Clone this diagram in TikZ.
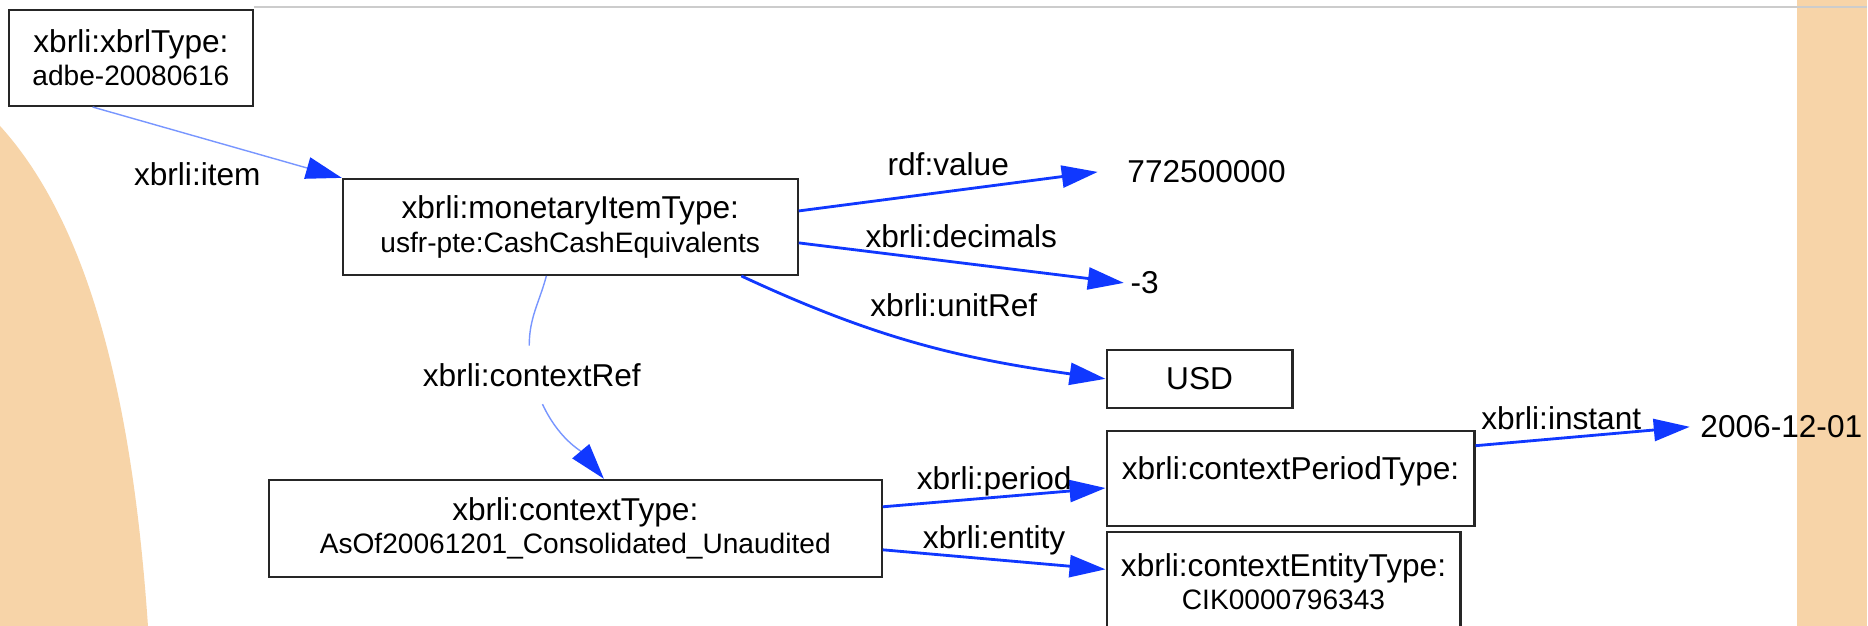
\documentclass[tikz,border=0pt]{standalone}
\usepackage{fontspec}
\setmainfont{Liberation Sans}
\usetikzlibrary{arrows.meta,positioning}
\definecolor{edgeblue}{RGB}{16,56,255}
\definecolor{paleblue}{RGB}{120,150,255}
\definecolor{peach}{RGB}{247,212,168}
\newcommand{\subline}[1]{\\[-1pt]{\fontsize{8}{9.5}\selectfont #1}}

\begin{document}
\begin{tikzpicture}
  \tikzstyle{typebox}=[draw=black!85, line width=0.6pt, align=center, minimum height=0.96cm, inner sep=0pt, font=\fontsize{9}{10.5}\selectfont]
  \tikzstyle{literal}=[font=\fontsize{9}{10.5}\selectfont, inner ysep=2pt]
  \tikzstyle{prop}=[font=\fontsize{9}{10.5}\selectfont, inner sep=2pt]
  \tikzstyle{rel}=[draw=edgeblue, line width=0.8pt, -{Triangle[length=0.36cm,width=0.22cm,color=edgeblue]}]
  \tikzstyle{weakrel}=[rel, draw=paleblue, line width=0.4pt]

  % background
  \fill[white] (0,0) rectangle (18.68,6.26);
  \fill[peach] (0,5.0) .. controls (1.0,3.9) and (1.35,1.9) .. (1.48,0) -- (0,0) -- cycle;
  \fill[peach] (17.98,0) rectangle (18.68,6.26);
  \draw[black!20] (2.54,6.19) -- (18.68,6.19);
  \useasboundingbox (0,0) rectangle (18.68,6.26);

  \node[typebox, minimum width=2.44cm] (xbrl) at (1.31,5.68) {xbrli:xbrlType:\subline{adbe-20080616}};
  \node[typebox, minimum width=4.55cm] (mon) at (5.705,3.99) {xbrli:monetaryItemType:\subline{usfr-pte:CashCashEquivalents}};
  \node[literal, inner xsep=0.29cm] (val) at (12.07,4.54) {772500000};
  \node[literal, minimum width=0.4cm, inner xsep=1pt] (dec) at (11.45,3.43) {-3};
  \node[typebox, minimum width=1.86cm, minimum height=0.58cm] (usd) at (12.00,2.47) {USD};
  \node[prop, inner ysep=0.17cm] (cref) at (5.32,2.51) {xbrli:contextRef};
  \node[typebox, minimum width=6.13cm, minimum height=0.97cm] (ctx) at (5.755,0.975) {xbrli:contextType:\subline{AsOf20061201\_Consolidated\_Unaudited}};
  \node[typebox, minimum width=3.68cm, minimum height=0.95cm] (period) at (12.91,1.475) {xbrli:contextPeriodType:\\[-4.5pt]\mbox{}};
  \node[typebox, minimum width=3.54cm, minimum height=1.0cm] (entity) at (12.84,0.44) {xbrli:contextEntityType:\subline{CIK0000796343}};
  \node[literal, inner xsep=0.1cm] (inst) at (17.82,1.99) {2006-12-01};

  % item and its properties
  \draw[weakrel] (xbrl.232) -- (mon.north west) node[prop, pos=0.42, below=0.18cm] (itemlbl) {xbrli:item};
  \draw[rel] (mon.4.3) -- (val.west) node[prop, midway, above=2pt] (vallbl) {rdf:value};
  \draw[rel] (mon.-4) -- (dec.west) node[prop, midway, above=2pt] (declbl) {xbrli:decimals};
  \draw[rel] (mon.-16.5) to[out=-25, in=172] node[prop, pos=0.5, above=5pt, xshift=0.35cm] (unitlbl) {xbrli:unitRef} (usd.west);
  \draw[paleblue, line width=0.4pt] (mon.244) to[out=-105, in=90] (cref.95);
  \draw[weakrel] (cref.-70) to[out=-65, in=130] (ctx.60);

  % context
  \draw[rel] (ctx.4.2) -- (period.183.9) node[prop, midway, above=-2pt] (perlbl) {xbrli:period};
  \draw[rel] (ctx.-4.2) -- (entity.176.6) node[prop, midway, above=-1pt] (entlbl) {xbrli:entity};
  \draw[rel] (period.10.3) -- (inst.west) node[prop, pos=0.4, above] (instlbl) {xbrli:instant};
\end{tikzpicture}
\end{document}
